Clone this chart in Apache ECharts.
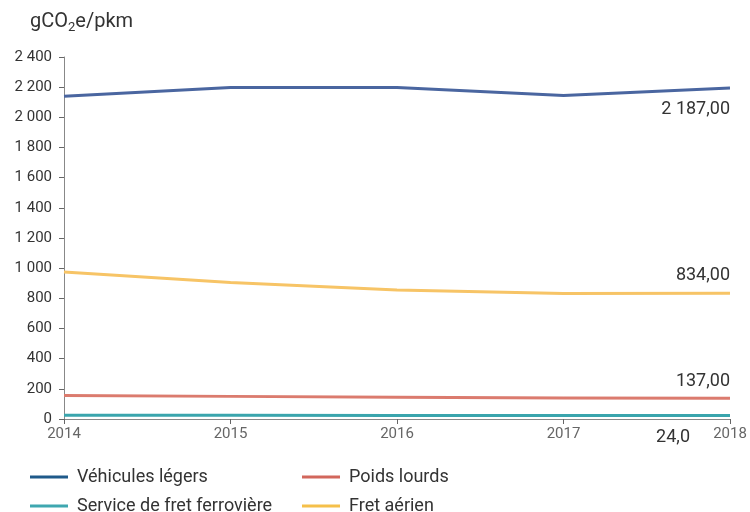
<!DOCTYPE html>
<html><head><meta charset="utf-8">
<script src="https://cdn.jsdelivr.net/npm/echarts@6/dist/echarts.min.js"></script>
<style>html,body{margin:0;padding:0;background:#fff}#c{width:750px;height:512px}</style>
</head><body><div id="c"></div>
<script>
const years = ['2014','2015','2016','2017','2018'];
const yTicks = [0,200,400,600,800,1000,1200,1400,1600,1800,2000,2200,2400];
const names = ['Véhicules légers','Poids lourds','Service de fret ferrovière','Fret aérien'];
const vehiculesLegers = [2140, 2198, 2198, 2145, 2195];
const poidsLourds = [155, 150, 145, 140, 137];
const fretFerroviaire = [25, 25, 24, 24, 24];
const fretAerien = [975, 905, 855, 832, 834];
const endLabels = ['2 187,00','137,00','24,0','834,00'];

const lineColors = ['#4a66a0','#db7b6e','#3aa5ad','#f7c466'];
const legendColors = ['#1f5a8a','#d2675c','#3fa7b0','#f5c04a'];
const seriesData = [vehiculesLegers, poidsLourds, fretFerroviaire, fretAerien];
const labelOffsets = [[0,22],[0,-17],[-40,22],[0,-18]];
const fmtNum = v => { const s = String(v); return s.length > 3 ? s.slice(0, s.length-3) + ' ' + s.slice(-3) : s; };

const font = 'Roboto, "Liberation Sans", sans-serif';
const series = seriesData.map((arr, si) => ({
  name: names[si], type:'line', symbol:'none', z: si===2?3:4,
  lineStyle:{color:lineColors[si], width:3},
  itemStyle:{color:lineColors[si]},
  emphasis:{disabled:true},
  endLabel:{show:true, formatter: endLabels[si], color:'#333', fontSize:18, fontFamily:font,
    align:'right', verticalAlign:'middle', distance:0, offset:labelOffsets[si]},
  data: arr
}));

const legendPos = [[25,463],[297,463],[25,492],[297,492]];
const legends = names.map((n, i) => ({
  left: legendPos[i][0], top: legendPos[i][1], icon:'rect', itemWidth:38, itemHeight:3,
  itemGap: 0, textStyle:{fontSize:18, color:'#333', fontFamily:font, padding:[0,0,0,4]},
  data:[{name:n, itemStyle:{color:legendColors[i], opacity:1}}], selectedMode:false
}));

const chart = echarts.init(document.getElementById('c'));
chart.setOption({
  animation:false,
  title:{text:'{a|gCO}{b|2}{a|e/pkm}', left:25, top:5, textStyle:{fontWeight:'normal', rich:{
    a:{fontSize:20, color:'#333', fontFamily:font, fontWeight:'normal'},
    b:{fontSize:13, color:'#333', fontFamily:font, fontWeight:'normal', padding:[11,0,0,0]}
  }}},
  legend: legends,
  grid:{left:64, right:20, top:57, bottom:93, containLabel:false},
  xAxis:{type:'category', data:years, boundaryGap:false,
    axisLine:{lineStyle:{color:'#888', width:1}},
    axisTick:{show:true, length:5, lineStyle:{color:'#666'}},
    axisLabel:{color:'#666', fontSize:15, fontFamily:font, margin:8}},
  yAxis:{type:'value', min:yTicks[0], max:yTicks[yTicks.length-1], interval:200,
    splitLine:{show:false},
    axisLine:{show:true, lineStyle:{color:'#888'}},
    axisTick:{show:true, length:5, lineStyle:{color:'#666'}},
    axisLabel:{color:'#333', fontSize:15, fontFamily:font, margin:12, formatter: v => fmtNum(v)}},
  series: series
});
</script></body></html>
